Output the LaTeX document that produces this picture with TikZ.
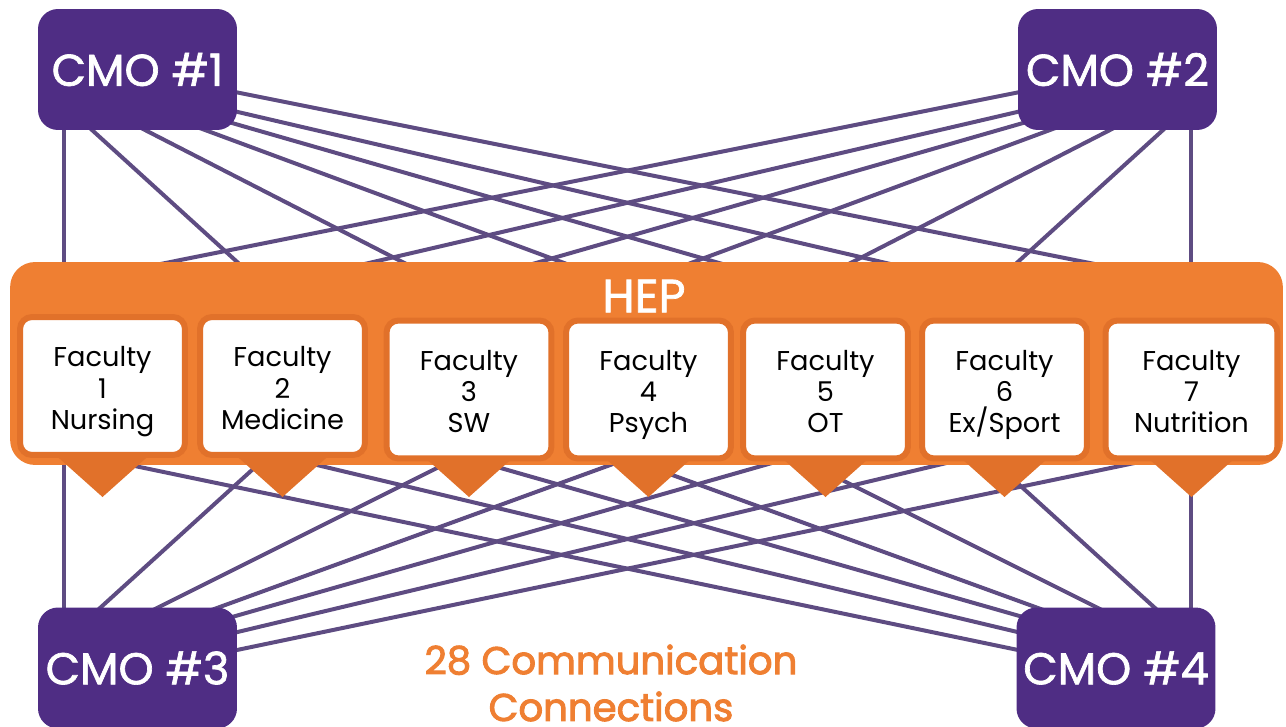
\documentclass[tikz,border=0pt]{standalone}
\usepackage{fontspec}
\setmainfont{Poppins}
\newfontfamily\medfont[FakeBold=1.5]{Poppins}
\newfontfamily\capfont[FakeBold=2.5]{Poppins}
\usepackage{tikz}
\definecolor{cmopurple}{HTML}{4F2D84}
\definecolor{linkpurple}{HTML}{5E4C82}
\definecolor{heporange}{HTML}{EF7F32}
\definecolor{framedark}{HTML}{E1712A}
\pgfdeclarelayer{edgelayer}
\pgfdeclarelayer{nodelayer}
\pgfsetlayers{edgelayer,nodelayer,main}
\tikzstyle{none} = [inner sep=0pt, minimum size=0pt]
\tikzstyle{cmo} = [rectangle, rounded corners=4mm, fill=cmopurple, text=white, minimum width=3.98cm, minimum height=2.42cm, font=\medfont\fontsize{25.4}{30}\selectfont]
\tikzstyle{hep} = [rectangle, rounded corners=5mm, fill=heporange, minimum width=25.46cm, minimum height=4.06cm]
\tikzstyle{hep label} = [text=white, inner sep=0pt, font=\medfont\fontsize{26.5}{30}\selectfont]
\tikzstyle{faculty} = [rectangle, rounded corners=2.4mm, fill=white, draw=framedark, line width=1.2mm, minimum width=3.3cm, minimum height=2.76cm, align=center, font=\fontsize{15.5}{17.9}\selectfont, text height=54.5pt, text depth=5pt]
\tikzstyle{faculty pointer} = [fill=framedark]
\tikzstyle{caption} = [text=heporange, inner sep=0pt, align=center, font=\capfont\fontsize{22}{26.7}\selectfont]
\tikzstyle{link} = [draw=linkpurple, line width=0.8mm]

\begin{document}
\begin{tikzpicture}[x=0.02cm, y=-0.02cm]
	\useasboundingbox (0, 0) rectangle (1286, 727);
	\begin{pgfonlayer}{nodelayer}
		\node [style=cmo] (0) at (137.5, 69.5) {CMO \#1};
		\node [style=cmo] (1) at (1117.5, 69.5) {CMO \#2};
		\node [style=cmo] (2) at (137.5, 668) {CMO \#3};
		\node [style=cmo] (3) at (1116, 668) {CMO \#4};
		\node [style=hep] (4) at (646.5, 363.5) {};
		\node [style=hep label] (5) at (644, 296) {HEP};
		\fill [style=faculty pointer] (55.5, 455) -- (149.5, 455) -- (102.5, 497) -- cycle;
		\fill [style=faculty pointer] (235.5, 455) -- (329.5, 455) -- (282.5, 497) -- cycle;
		\fill [style=faculty pointer] (422, 455) -- (516, 455) -- (469, 497) -- cycle;
		\fill [style=faculty pointer] (601.5, 455) -- (695.5, 455) -- (648.5, 497) -- cycle;
		\fill [style=faculty pointer] (778.5, 455) -- (872.5, 455) -- (825.5, 497) -- cycle;
		\fill [style=faculty pointer] (957.5, 455) -- (1051.5, 455) -- (1004.5, 497) -- cycle;
		\fill [style=faculty pointer] (1144.5, 455) -- (1238.5, 455) -- (1191.5, 497) -- cycle;
		\node [style=faculty] (6) at (102.5, 386) {Faculty\\1\\Nursing};
		\node [style=faculty] (7) at (282.5, 386) {Faculty\\2\\Medicine};
		\node [style=faculty] (8) at (469, 389.5) {Faculty\\3\\SW};
		\node [style=faculty] (9) at (648.5, 389.5) {Faculty\\4\\Psych};
		\node [style=faculty] (10) at (825.5, 389.5) {Faculty\\5\\OT};
		\node [style=faculty] (11) at (1004.5, 389.5) {Faculty\\6\\Ex/Sport};
		\node [style=faculty, minimum width=3.44cm] (12) at (1191.5, 389.5) {Faculty\\7\\Nutrition};
		\node [style=caption] (13) at (611, 683) {28 Communication\\Connections};
		% hidden ends, CMO #1
		\node [style=none] (20) at (64, 120) {};
		\node [style=none] (21) at (64, 290) {};
		\node [style=none] (22) at (81, 120) {};
		\node [style=none] (23) at (268, 290) {};
		\node [style=none] (24) at (125.5, 120) {};
		\node [style=none] (25) at (457, 290) {};
		\node [style=none] (26) at (178, 120) {};
		\node [style=none] (27) at (637, 290) {};
		\node [style=none] (28) at (225, 121) {};
		\node [style=none] (29) at (813, 290) {};
		\node [style=none] (30) at (225, 109) {};
		\node [style=none] (31) at (1002, 290) {};
		\node [style=none] (32) at (225, 90) {};
		\node [style=none] (33) at (1224.5, 290) {};
		% hidden ends, CMO #2
		\node [style=none] (40) at (1191, 120) {};
		\node [style=none] (41) at (1191, 290) {};
		\node [style=none] (42) at (1174, 120) {};
		\node [style=none] (43) at (987, 290) {};
		\node [style=none] (44) at (1129.5, 120) {};
		\node [style=none] (45) at (798, 290) {};
		\node [style=none] (46) at (1077, 120) {};
		\node [style=none] (47) at (618, 290) {};
		\node [style=none] (48) at (1030, 121) {};
		\node [style=none] (49) at (442, 290) {};
		\node [style=none] (50) at (1030, 109) {};
		\node [style=none] (51) at (253, 290) {};
		\node [style=none] (52) at (1030, 90) {};
		\node [style=none] (53) at (30.5, 290) {};
		% hidden ends, CMO #3
		\node [style=none] (60) at (64, 618) {};
		\node [style=none] (61) at (64, 450) {};
		\node [style=none] (62) at (89, 618) {};
		\node [style=none] (63) at (274, 450) {};
		\node [style=none] (64) at (137, 618) {};
		\node [style=none] (65) at (473, 450) {};
		\node [style=none] (66) at (189.5, 618) {};
		\node [style=none] (67) at (651.5, 450) {};
		\node [style=none] (68) at (225, 619) {};
		\node [style=none] (69) at (817.5, 450) {};
		\node [style=none] (70) at (225, 635) {};
		\node [style=none] (71) at (1001, 450) {};
		\node [style=none] (72) at (225, 652.5) {};
		\node [style=none] (73) at (1197, 450) {};
		% hidden ends, CMO #4
		\node [style=none] (80) at (1191, 618) {};
		\node [style=none] (81) at (1191, 450) {};
		\node [style=none] (82) at (1166, 618) {};
		\node [style=none] (83) at (981, 450) {};
		\node [style=none] (84) at (1118, 618) {};
		\node [style=none] (85) at (782, 450) {};
		\node [style=none] (86) at (1065.5, 618) {};
		\node [style=none] (87) at (603.5, 450) {};
		\node [style=none] (88) at (1030, 619) {};
		\node [style=none] (89) at (437.5, 450) {};
		\node [style=none] (90) at (1030, 635) {};
		\node [style=none] (91) at (254, 450) {};
		\node [style=none] (92) at (1030, 652.5) {};
		\node [style=none] (93) at (58, 450) {};
	\end{pgfonlayer}
	\begin{pgfonlayer}{edgelayer}
		\draw [style=link] (20.center) to (21.center);
		\draw [style=link] (22.center) to (23.center);
		\draw [style=link] (24.center) to (25.center);
		\draw [style=link] (26.center) to (27.center);
		\draw [style=link] (28.center) to (29.center);
		\draw [style=link] (30.center) to (31.center);
		\draw [style=link] (32.center) to (33.center);
		\draw [style=link] (40.center) to (41.center);
		\draw [style=link] (42.center) to (43.center);
		\draw [style=link] (44.center) to (45.center);
		\draw [style=link] (46.center) to (47.center);
		\draw [style=link] (48.center) to (49.center);
		\draw [style=link] (50.center) to (51.center);
		\draw [style=link] (52.center) to (53.center);
		\draw [style=link] (60.center) to (61.center);
		\draw [style=link] (62.center) to (63.center);
		\draw [style=link] (64.center) to (65.center);
		\draw [style=link] (66.center) to (67.center);
		\draw [style=link] (68.center) to (69.center);
		\draw [style=link] (70.center) to (71.center);
		\draw [style=link] (72.center) to (73.center);
		\draw [style=link] (80.center) to (81.center);
		\draw [style=link] (82.center) to (83.center);
		\draw [style=link] (84.center) to (85.center);
		\draw [style=link] (86.center) to (87.center);
		\draw [style=link] (88.center) to (89.center);
		\draw [style=link] (90.center) to (91.center);
		\draw [style=link] (92.center) to (93.center);
	\end{pgfonlayer}
\end{tikzpicture}
\end{document}
